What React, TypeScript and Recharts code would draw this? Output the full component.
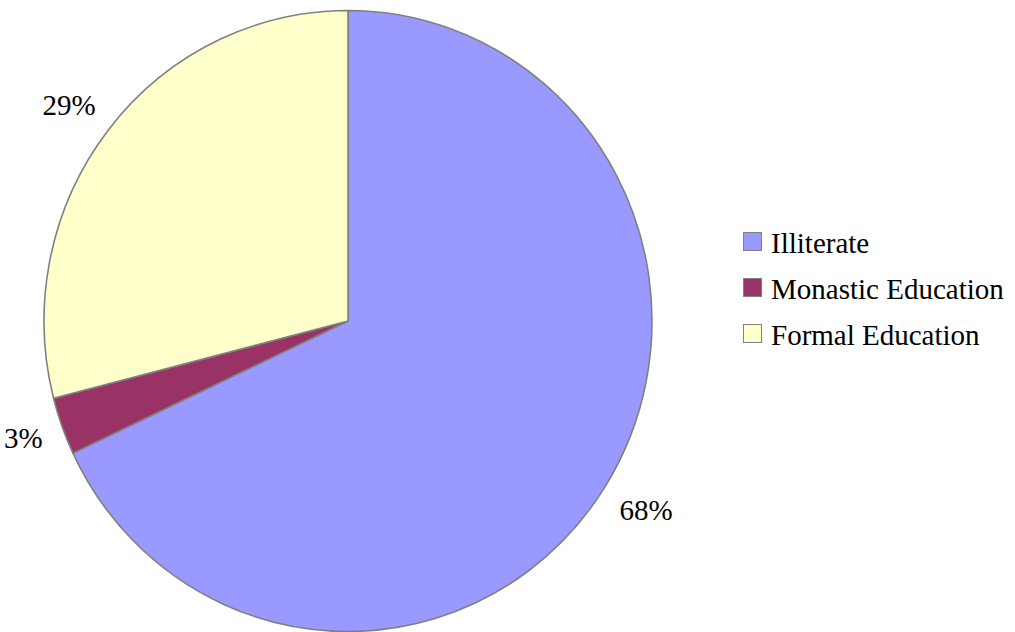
import React from 'react';
import { PieChart, Pie, Cell, Legend } from 'recharts';

const categories = ['Illiterate', 'Monastic Education', 'Formal Education'];
const values = [68, 3, 29];
const colors = ['#9999FF', '#993366', '#FFFFCC'];

const data = categories.map((name, i) => ({ name, value: values[i] }));

const CX = 348;
const CY = 321;
const RX = 304;
const RY = 310.5;
const RAD = Math.PI / 180;
const FONT = '"Liberation Serif", "Times New Roman", Times, serif';
const FS = 29;

function pt(a: number, rx: number, ry: number) {
  return [CX + rx * Math.cos(-a * RAD), CY + ry * Math.sin(-a * RAD)];
}

const EllipseSector = (props: any) => {
  const { startAngle, endAngle, fill } = props;
  const [x1, y1] = pt(startAngle, RX, RY);
  const [x2, y2] = pt(endAngle, RX, RY);
  const large = Math.abs(endAngle - startAngle) > 180 ? 1 : 0;
  const sweep = endAngle < startAngle ? 1 : 0;
  const d = `M${CX},${CY} L${x1},${y1} A${RX},${RY} 0 ${large} ${sweep} ${x2},${y2} Z`;
  return <path d={d} fill={fill} stroke="#808080" strokeWidth={1.6} strokeLinejoin="round" />;
};

const renderLabel = (props: any) => {
  const { midAngle, value } = props;
  const g = 18;
  const c = Math.cos(-midAngle * RAD);
  const s = Math.sin(-midAngle * RAD);
  const text = `${value}%`;
  const w = (0.5 * (text.length - 1) + 0.833) * FS;
  const h = 25;
  const rEdge = 1 / Math.sqrt((c / RX) ** 2 + (s / RY) ** 2);
  const ext = Math.abs(c) * (w / 2) + Math.abs(s) * (h / 2);
  const R = rEdge + g + ext;
  const x = CX + R * c;
  const y = CY + R * s;
  return (
    <text x={x} y={y} textAnchor="middle" dominantBaseline="central" style={{ fontFamily: FONT }} fontSize={FS} fill="#000">
      {text}
    </text>
  );
};

const LegendContent = () => (
  <div style={{ fontSize: FS, color: '#000', fontFamily: FONT }}>
    {categories.map((c, i) => (
      <div key={c} style={{ position: 'absolute', left: 0, top: i * 46, height: 30, whiteSpace: 'nowrap' }}>
        <div
          style={{
            position: 'absolute',
            left: 0,
            top: 3,
            width: 17,
            height: 17,
            background: colors[i],
            border: '1.5px solid #808080',
          }}
        />
        <span style={{ position: 'absolute', left: 28, top: -3, lineHeight: '34px' }}>{c}</span>
      </div>
    ))}
  </div>
);

export default function App() {
  return (
    <div style={{ position: 'absolute', left: 0, top: 0, width: 1015, height: 632, background: '#fff' }}>
      <PieChart width={1015} height={632} margin={{ top: 0, right: 0, bottom: 0, left: 0 }}>
        <Pie
          data={data}
          dataKey="value"
          nameKey="name"
          cx={CX}
          cy={CY}
          outerRadius={RX}
          startAngle={90}
          endAngle={-270}
          isAnimationActive={false}
          shape={EllipseSector}
          label={renderLabel}
          labelLine={false}
        >
          {data.map((d, i) => (
            <Cell key={d.name} fill={colors[i]} />
          ))}
        </Pie>
        <Legend
          content={LegendContent}
          wrapperStyle={{ position: 'absolute', left: 743, top: 229, width: 272, height: 140 }}
        />
      </PieChart>
    </div>
  );
}
